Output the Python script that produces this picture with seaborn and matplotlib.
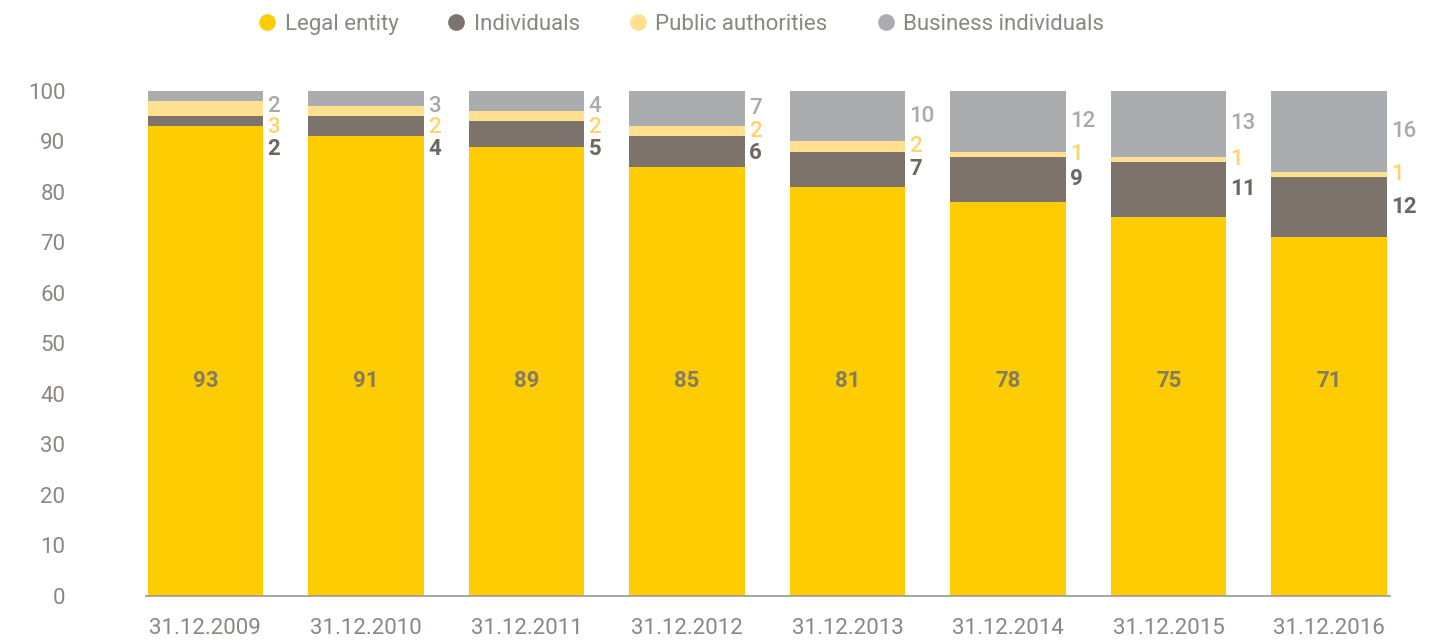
import matplotlib
matplotlib.use("Agg")
import matplotlib.pyplot as plt
from matplotlib.lines import Line2D
import numpy as np
import pandas as pd
import seaborn as sns

# Data (percent of total)
dates = ["31.12.2009", "31.12.2010", "31.12.2011", "31.12.2012",
         "31.12.2013", "31.12.2014", "31.12.2015", "31.12.2016"]
legal_entity = [93, 91, 89, 85, 81, 78, 75, 71]
individuals = [2, 4, 5, 6, 7, 9, 11, 12]
public_authorities = [3, 2, 2, 2, 2, 1, 1, 1]
business_individuals = [2, 3, 4, 7, 10, 12, 13, 16]

series_names = ["Legal entity", "Individuals", "Public authorities", "Business individuals"]
bar_colors = ["#FDCC03", "#7B736C", "#FFE08F", "#ABACAF"]
label_colors = [None, "#6E6761", "#FFD466", "#ABA9A7"]
text_grey = "#8C8680"

sns.set_theme(style="white")
plt.rcParams["font.family"] = ["Roboto", "DejaVu Sans"]

layers = [legal_entity, individuals, public_authorities, business_individuals]
cum = np.cumsum(np.array(layers), axis=0)

fig = plt.figure(figsize=(14.33, 6.43), dpi=100)
ax = fig.add_axes([0.1019, 0.0731, 0.8681, 0.7854])

# Stack by overdrawing cumulative totals, tallest first
for k in range(len(layers) - 1, -1, -1):
    df = pd.DataFrame({"date": dates, "value": cum[k]})
    sns.barplot(data=df, x="date", y="value", order=dates, color=bar_colors[k],
                width=0.72, saturation=1, ax=ax, edgecolor="none", linewidth=0)

# Values inside the base layer
for i, v in enumerate(legal_entity):
    ax.text(i, 42.5, f"{v}", ha="center", va="center", fontsize=16,
            fontweight="bold", color="#857B62")

# Values to the right of the upper layers, spread so they do not overlap
min_gap = 4.2
for i in range(len(dates)):
    centers = [(cum[k][i] - layers[k][i] / 2.0) for k in (3, 2, 1)]
    pos = []
    for j, c in enumerate(centers):
        c = min(c, 97.0) if j == 0 else min(c, pos[-1] - min_gap)
        pos.append(c)
    for (k, p) in zip((3, 2, 1), pos):
        ax.annotate(f"{layers[k][i]}", xy=(i + 0.36, p), xytext=(3, 0),
                    textcoords="offset points", ha="left", va="center",
                    fontsize=16, fontweight="bold" if k == 1 else "medium",
                    color=label_colors[k])

ax.set_xlim(-0.37, 7.38)
ax.set_ylim(0, 100)
ax.set_yticks(range(0, 101, 10))
ax.set_xlabel("")
ax.set_ylabel("")
for s in ("top", "right", "left"):
    ax.spines[s].set_visible(False)
ax.spines["bottom"].set_color("#A39D97")
ax.spines["bottom"].set_linewidth(1.3)
ax.tick_params(axis="x", length=0, pad=16, labelsize=16, labelcolor=text_grey)
ax.tick_params(axis="y", length=0, pad=58, labelsize=16, labelcolor=text_grey)
ax.grid(False)

handles = [Line2D([], [], marker="o", linestyle="none", markersize=11,
                  markerfacecolor=c, markeredgecolor=c) for c in bar_colors]
fig.legend(handles, series_names, loc="center", bbox_to_anchor=(0.4745, 0.962),
           ncol=4, frameon=False, fontsize=16, labelcolor=text_grey,
           handletextpad=0.3, columnspacing=2.1, handlelength=1.0)

fig.savefig("out.png", dpi=100)
